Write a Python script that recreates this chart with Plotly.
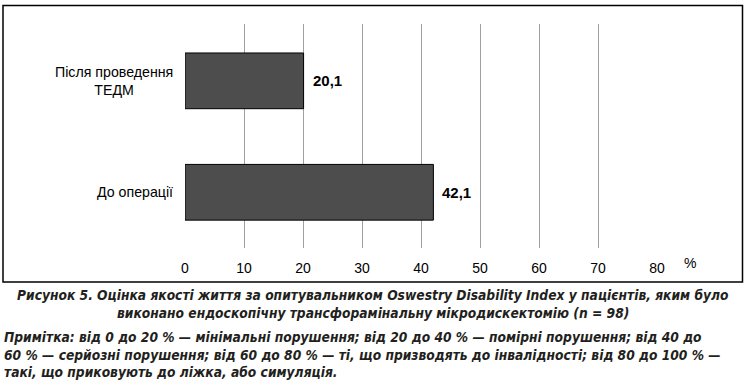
import plotly.graph_objects as go

# Data
categories = ["До операції", "Після проведення<br>ТЕДМ"]
values = [42.1, 20.1]
value_labels = ["42,1", "20,1"]
x_ticks = [0, 10, 20, 30, 40, 50, 60, 70, 80]
x_tick_labels = ["0", "10", "20", "30", "40", "50", "60", "70", "80"]
unit_label = "%"
caption_lines = [
    "Рисунок 5. Оцінка якості життя за опитувальником Oswestry Disability Index у пацієнтів, яким було",
    "виконано ендоскопічну трансфорамінальну мікродискектомію (n = 98)",
]
note_lines = [
    "Примітка: від 0 до 20 % — мінімальні порушення; від 20 до 40 % — помірні порушення; від 40 до",
    "60 % — серйозні порушення; від 60 до 80 % — ті, що призводять до інвалідності; від 80 до 100 % —",
    "такі, що приковують до ліжка, або симуляція.",
]

W, H = 746, 384
ML, MR, MT, MB = 185, 89, 24, 136
PW, PH = W - ML - MR, H - MT - MB

def px_x(x):
    return (x - ML) / PW

def px_y(y):
    return (H - MB - y) / PH

fig = go.Figure()
fig.add_trace(go.Bar(
    y=list(range(len(categories))),
    x=values,
    orientation="h",
    width=0.5,
    marker=dict(color="#4d4d4d", line=dict(color="#000000", width=1)),
    hoverinfo="skip",
))

annotations = []
for i, (cat, v, lab) in enumerate(zip(categories, values, value_labels)):
    annotations.append(dict(
        x=v, y=i, xref="x", yref="y", text=f"<b>{lab}</b>", showarrow=False,
        xanchor="left", xshift=7, font=dict(family="Liberation Sans, Arial", size=15, color="#000"),
    ))
    annotations.append(dict(
        x=0, y=i, xref="x", yref="y", text=cat, showarrow=False,
        xanchor="right", xshift=-10, align="center",
        font=dict(family="Liberation Sans, Arial", size=14.2, color="#000"),
    ))

annotations.append(dict(
    x=px_x(690), y=px_y(263), xref="paper", yref="paper", text=unit_label, showarrow=False,
    xanchor="center", yanchor="middle", font=dict(family="Liberation Sans, Arial", size=14, color="#000"),
))

cap_font = dict(family="DejaVu Sans Condensed", size=13.7, color="#231f20")
for j, (line, yy) in enumerate(zip(caption_lines, [295, 313])):
    annotations.append(dict(
        x=px_x(373), y=px_y(yy), xref="paper", yref="paper", text=f"<b><i>{line}</i></b>",
        showarrow=False, xanchor="center", yanchor="middle", font=cap_font,
    ))
for j, (line, yy) in enumerate(zip(note_lines, [337, 355, 372])):
    annotations.append(dict(
        x=px_x(2), y=px_y(yy), xref="paper", yref="paper", text=f"<b><i>{line}</i></b>",
        showarrow=False, xanchor="left", yanchor="middle", font=cap_font,
    ))

fig.update_layout(
    width=W, height=H,
    margin=dict(l=ML, r=MR, t=MT, b=MB),
    paper_bgcolor="#ffffff", plot_bgcolor="#ffffff",
    showlegend=False,
    bargap=0.5,
    annotations=annotations,
    shapes=[dict(
        type="rect", xref="paper", yref="paper",
        x0=px_x(3), x1=px_x(742.5), y0=px_y(282), y1=px_y(5.5),
        line=dict(color="#000000", width=1.5), fillcolor="rgba(0,0,0,0)", layer="below",
    )],
    xaxis=dict(
        range=[0, 80], tickvals=x_ticks, ticktext=x_tick_labels,
        showgrid=True, gridcolor="#a0a0a0", gridwidth=1,
        zeroline=False, showline=False, ticks="",
        tickfont=dict(family="Liberation Sans, Arial", size=14, color="#000"),
        ticklabelstandoff=10,
    ),
    yaxis=dict(
        range=[-0.5, 1.51], showticklabels=False, showgrid=False,
        zeroline=False, showline=False, ticks="",
    ),
)

fig.write_html("out.html", config={"displayModeBar": False},
               post_script="document.body.style.margin='0';")
